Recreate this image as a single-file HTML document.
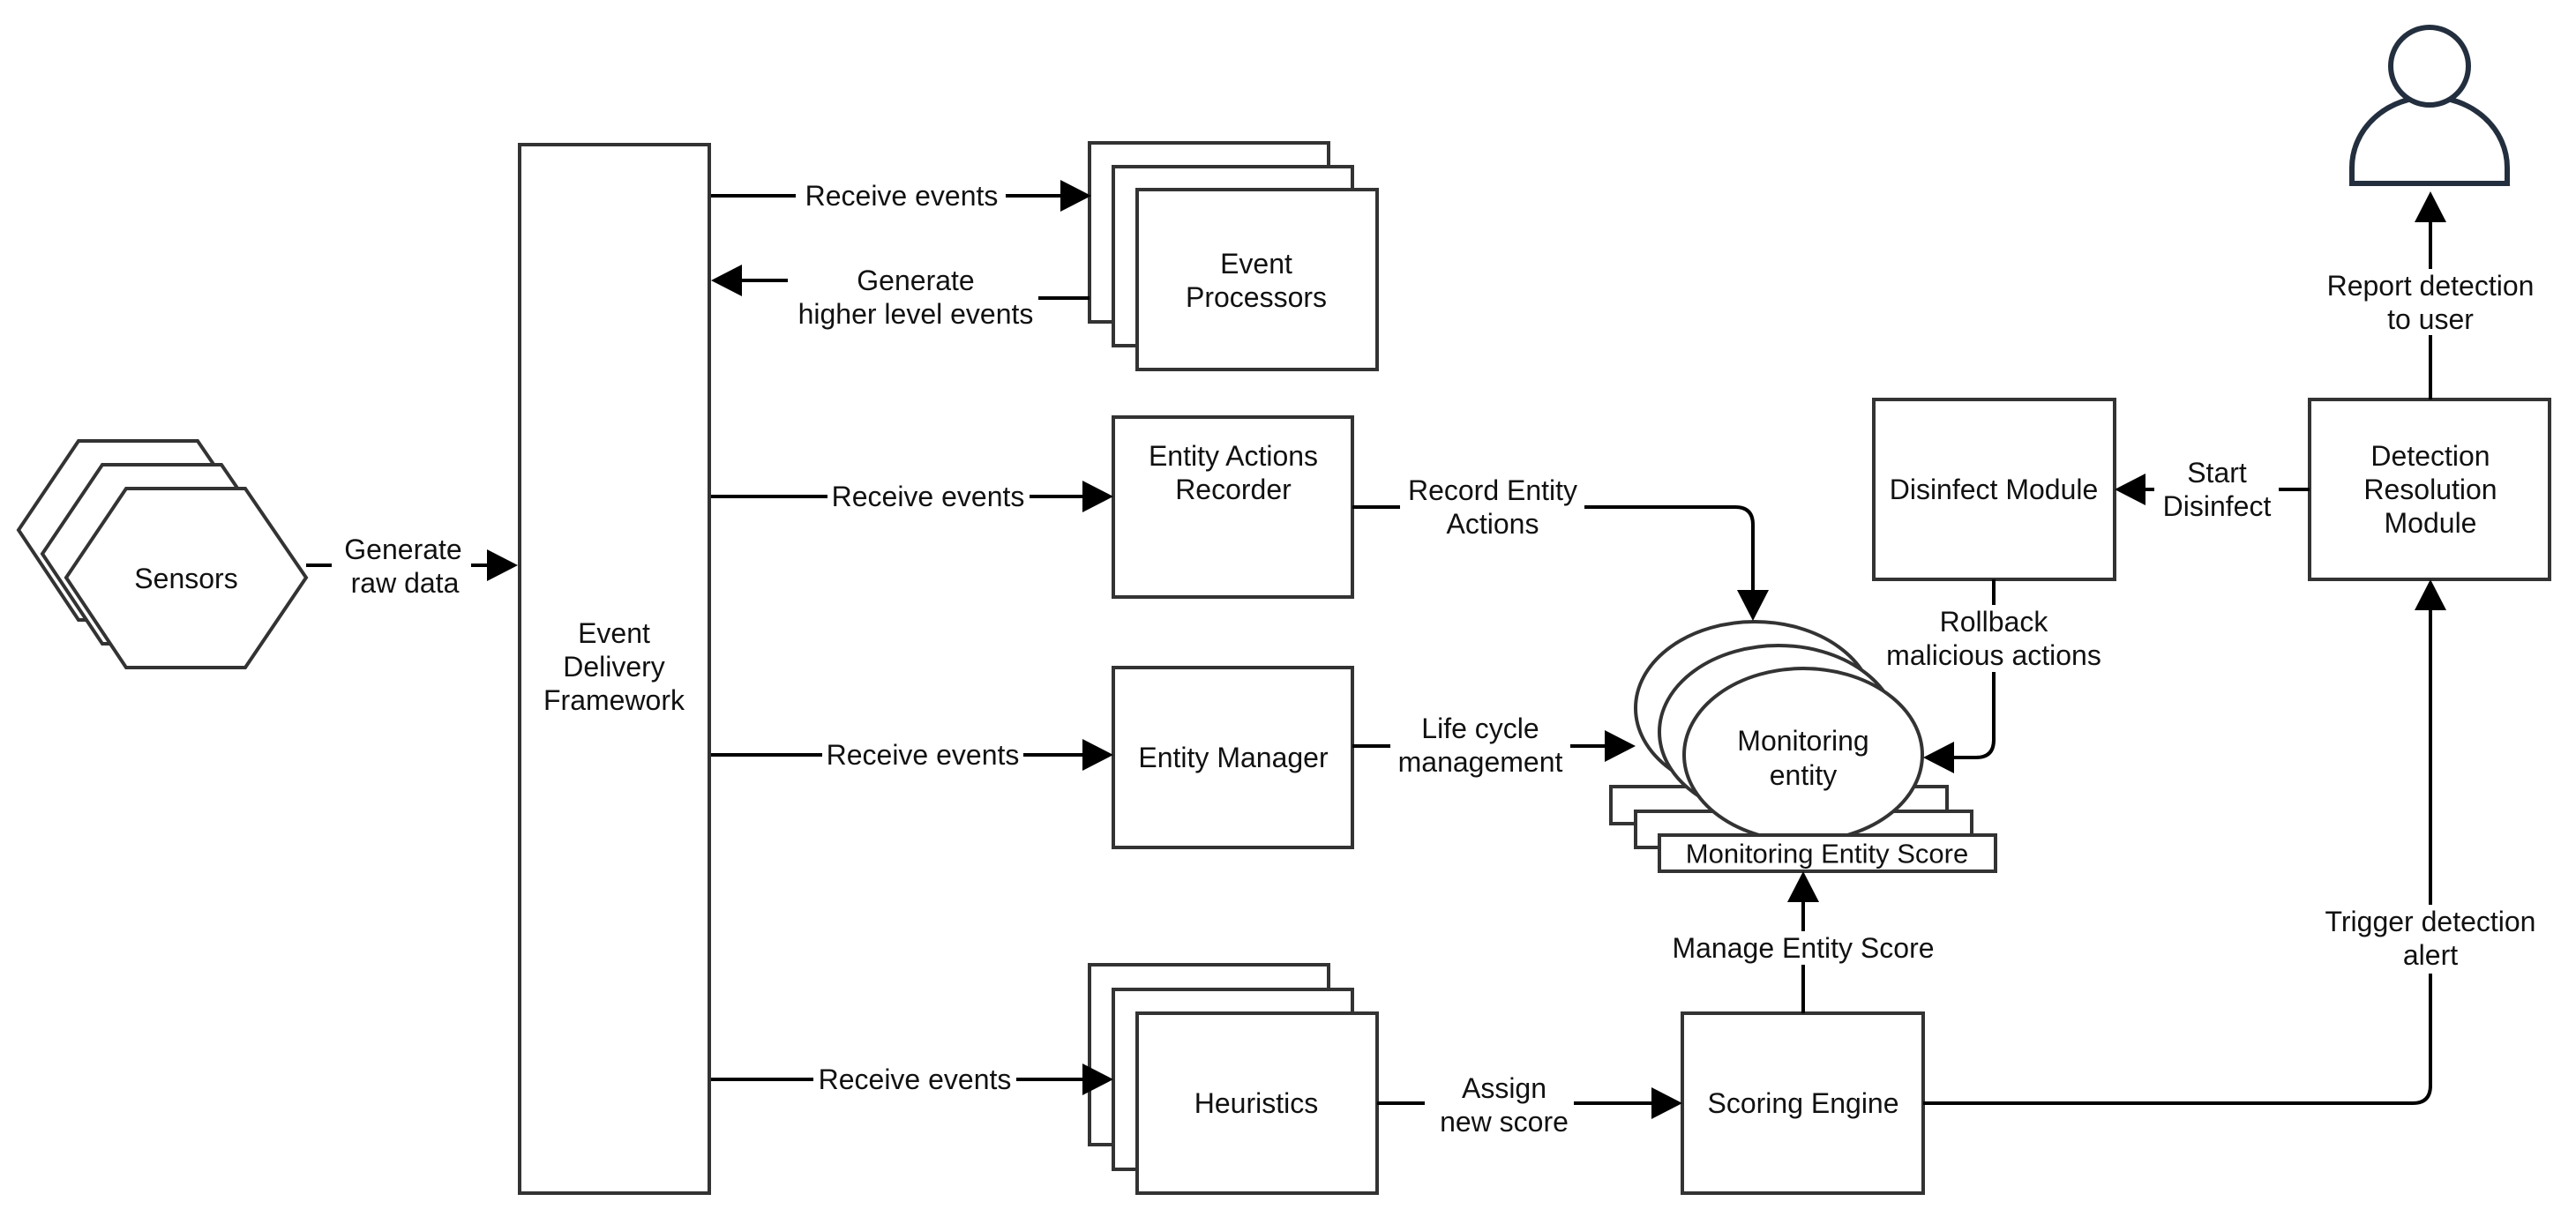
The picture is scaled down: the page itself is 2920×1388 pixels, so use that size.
<!DOCTYPE html>
<html><head><meta charset="utf-8"><style>
html,body{margin:0;padding:0;background:#fff}
svg{display:block}
text{font-family:"Liberation Sans",Arial,sans-serif;font-size:32px;fill:#111;text-anchor:middle;dominant-baseline:central}
.b{fill:#fff;stroke:#333;stroke-width:4}
.l{fill:none;stroke:#000;stroke-width:4}
</style></head><body>
<svg width="2920" height="1388" viewBox="0 0 2920 1388" xmlns="http://www.w3.org/2000/svg">
<polygon class="b" points="89,500 224,500 293,601 224,703 89,703 21,601"/>
<polygon class="b" points="116,527 251,527 320,628 251,730 116,730 48,628"/>
<polygon class="b" points="143,554 278,554 347,655 278,757 143,757 75,655"/>
<text x="211" y="656">Sensors</text>
<line class="l" x1="347" y1="641" x2="376" y2="641"/>
<line class="l" x1="534" y1="641" x2="555" y2="641"/>
<polygon points="587,641 552,623 552,659"/>
<text x="457" y="623">Generate</text><text x="459" y="661">raw data</text>
<rect class="b" x="589" y="164" width="215" height="1189"/>
<text x="696" y="718">Event</text><text x="696" y="756">Delivery</text><text x="696" y="794">Framework</text>
<rect class="b" x="1235" y="162" width="271" height="203"/>
<rect class="b" x="1262" y="189" width="271" height="203"/>
<rect class="b" x="1289" y="215" width="272" height="204"/>
<text x="1424" y="299">Event</text><text x="1424" y="337">Processors</text>
<line class="l" x1="806" y1="222" x2="902" y2="222"/>
<line class="l" x1="1140" y1="222" x2="1205" y2="222"/>
<polygon points="1237,222 1202,204 1202,240"/>
<text x="1022" y="222">Receive events</text>
<line class="l" x1="835" y1="318" x2="893" y2="318"/>
<polygon points="806,318 841,300 841,336"/>
<line class="l" x1="1177" y1="338" x2="1235" y2="338"/>
<text x="1038" y="318">Generate</text><text x="1038" y="356">higher level events</text>
<rect class="b" x="1262" y="473" width="271" height="204"/>
<text x="1398" y="517">Entity Actions</text><text x="1398" y="555">Recorder</text>
<line class="l" x1="806" y1="563" x2="938" y2="563"/>
<line class="l" x1="1167" y1="563" x2="1230" y2="563"/>
<polygon points="1262,563 1227,545 1227,581"/>
<text x="1052" y="563">Receive events</text>
<rect class="b" x="1262" y="757" width="271" height="204"/>
<text x="1398" y="859">Entity Manager</text>
<line class="l" x1="806" y1="856" x2="932" y2="856"/>
<line class="l" x1="1160" y1="856" x2="1230" y2="856"/>
<polygon points="1262,856 1227,838 1227,874"/>
<text x="1046" y="856">Receive events</text>
<rect class="b" x="1235" y="1094" width="271" height="204"/>
<rect class="b" x="1262" y="1122" width="271" height="204"/>
<rect class="b" x="1289" y="1149" width="272" height="204"/>
<text x="1424" y="1251">Heuristics</text>
<line class="l" x1="806" y1="1224" x2="922" y2="1224"/>
<line class="l" x1="1152" y1="1224" x2="1230" y2="1224"/>
<polygon points="1262,1224 1227,1206 1227,1242"/>
<text x="1037" y="1224">Receive events</text>
<g transform="translate(-12,0)">
<rect class="b" x="1838" y="892" width="381" height="42"/>
<rect class="b" x="1866" y="920" width="381" height="41"/>
<ellipse class="b" cx="2001" cy="803" rx="135" ry="98"/>
<ellipse class="b" cx="2028" cy="830" rx="135" ry="98"/>
<ellipse class="b" cx="2056" cy="856" rx="135" ry="98"/>
<rect class="b" x="1893" y="947" width="381" height="41"/>
<text x="2056" y="840">Monitoring</text><text x="2056" y="879">entity</text>
<text x="2083" y="968" style="font-size:31px">Monitoring Entity Score</text>
<path class="l" d="M1545,575 H1599 M1808,575 H1979 Q1999,575 1999,595 V672"/>
<polygon points="1999,704 1981,669 2017,669"/>
<text x="1704" y="556">Record Entity</text><text x="1704" y="594">Actions</text>
<path class="l" d="M1545,846 H1588 M1792,846 H1835"/>
<polygon points="1866,846 1831,828 1831,864"/>
<text x="1690" y="826">Life cycle</text><text x="1690" y="864">management</text>
<rect class="b" x="1919" y="1149" width="273" height="204"/>
<text x="2056" y="1251">Scoring Engine</text>
<path class="l" d="M1573,1251 H1627 M1796,1251 H1888"/>
<polygon points="1919,1251 1884,1233 1884,1269"/>
<text x="1717" y="1234">Assign</text><text x="1717" y="1272">new score</text>
<path class="l" d="M2056,1149 V1094 M2056,1056 V1018"/>
<polygon points="2056,988 2038,1023 2074,1023"/>
<text x="2056" y="1075">Manage Entity Score</text>
<rect class="b" x="2136" y="453" width="273" height="204"/>
<text x="2272" y="555">Disinfect Module</text>
<path class="l" d="M2272,657 V686 M2272,762 V839 Q2272,859 2252,859 H2222"/>
<polygon points="2192,859 2227,841 2227,877"/>
<text x="2272" y="705">Rollback</text><text x="2272" y="743">malicious actions</text>
<rect class="b" x="2630" y="453" width="272" height="204"/>
<text x="2767" y="517">Detection</text><text x="2767" y="555">Resolution</text><text x="2767" y="593">Module</text>
<path class="l" d="M2630,555 H2595 M2454,555 H2440"/>
<polygon points="2409,555 2444,537 2444,573"/>
<text x="2525" y="536">Start</text><text x="2525" y="574">Disinfect</text>
<path class="l" d="M2767,453 V380 M2767,305 V248"/>
<polygon points="2767,217 2749,252 2785,252"/>
<text x="2767" y="324">Report detection</text><text x="2767" y="362">to user</text>
<path class="l" d="M2192,1251 H2747 Q2767,1251 2767,1231 V1104 M2767,1026 V688"/>
<polygon points="2767,657 2749,692 2785,692"/>
<text x="2767" y="1045">Trigger detection</text><text x="2767" y="1083">alert</text>
<path d="M2678,208 V190 A88,80 0 0 1 2854,190 V208 Z" fill="#fff" stroke="#232f3e" stroke-width="6"/>
<circle cx="2766" cy="75" r="44" fill="#fff" stroke="#232f3e" stroke-width="6"/>
</g>
</svg>
</body></html>
